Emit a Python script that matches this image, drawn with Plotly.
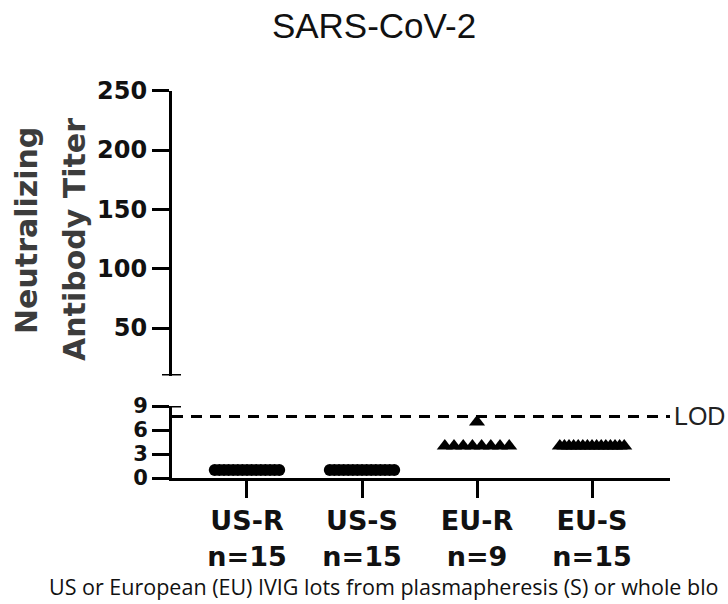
import numpy as np
import plotly.graph_objects as go

# ---------------- data ----------------
groups = ["US-R", "US-S", "EU-R", "EU-S"]
group_n = ["n=15", "n=15", "n=9", "n=15"]
us_r = [1, 1, 1, 1, 1, 1, 1, 1, 1, 1, 1, 1, 1, 1, 1]
us_s = [1, 1, 1, 1, 1, 1, 1, 1, 1, 1, 1, 1, 1, 1, 1]
eu_r = [7, 4, 4, 4, 4, 4, 4, 4, 4]
eu_s = [4, 4, 4, 4, 4, 4, 4, 4, 4, 4, 4, 4, 4, 4, 4]
series = [us_r, us_s, eu_r, eu_s]
symbols = ["circle", "circle", "triangle-up", "triangle-up"]
lod = 7.7
lower_ticks = [0, 3, 6, 9]
upper_ticks = [50, 100, 150, 200, 250]
lower_range = [0, 9]
upper_range = [10, 250]
caption = "US or European (EU) IVIG lots from plasmapheresis (S) or whole blo"

# ---------------- layout helpers ----------------
W, H = 728, 604
def fx(px):
    return px / W
def fy(py):
    return 1 - py / H

BOLD = "DejaVu Sans"
AX_L, AX_R = 172, 670
xrange_ = [-0.652, 3.678]
half_w = 0.28

fig = go.Figure()

for gi, (vals, sym) in enumerate(zip(series, symbols)):
    vals = np.asarray(vals, dtype=float)
    xs = np.zeros(len(vals))
    for v in np.unique(vals):
        idx = np.where(vals == v)[0]
        k = len(idx)
        xs[idx] = gi + (np.linspace(-half_w, half_w, k) if k > 1 else 0.0)
    fig.add_trace(go.Scatter(
        x=xs, y=vals, mode="markers", xaxis="x", yaxis="y",
        marker=dict(symbol=sym, color="black",
                    size=12 if sym == "circle" else 14, line=dict(width=0)),
        showlegend=False, hoverinfo="skip", cliponaxis=False,
    ))

# invisible trace so the upper (broken) axis segment is drawn
fig.add_trace(go.Scatter(x=[None], y=[None], xaxis="x", yaxis="y2",
                         mode="markers", showlegend=False, hoverinfo="skip"))

axis_common = dict(showline=True, linecolor="black", linewidth=3,
                   ticks="outside", tickcolor="black", tickwidth=3,
                   showgrid=False, zeroline=False, automargin=False)

fig.update_layout(
    width=W, height=H, margin=dict(l=0, r=0, t=0, b=0, autoexpand=False),
    paper_bgcolor="white", plot_bgcolor="white",
    xaxis=dict(domain=[fx(AX_L), fx(AX_R)], range=xrange_, anchor="y",
               tickvals=list(range(len(groups))),
               ticktext=[f"{g}<br>{n}" for g, n in zip(groups, group_n)],
               ticklen=17,
               tickfont=dict(family=BOLD, size=27, color="#111111", weight="bold"),
               **axis_common),
    yaxis=dict(domain=[fy(478), fy(406)], range=lower_range, anchor="x",
               tickvals=lower_ticks, ticklen=17,
               tickfont=dict(family=BOLD, size=21, color="#111111", weight="bold"),
               **axis_common),
    yaxis2=dict(domain=[fy(375.5), fy(90.7)], range=upper_range, anchor="x",
                tickvals=upper_ticks, ticklen=17,
                tickfont=dict(family=BOLD, size=24, color="#111111", weight="bold"),
                **axis_common),
    title=dict(text="SARS-CoV-2", x=fx(374), y=fy(26), xanchor="center",
               yanchor="middle",
               font=dict(family="Liberation Sans", size=35, color="#111111")),
)

# LOD dashed line
fig.add_shape(type="line", xref="x domain", yref="y", x0=0, x1=1,
              y0=lod, y1=lod,
              line=dict(color="black", width=3, dash="11px,8px"))
fig.add_annotation(xref="x domain", yref="y", x=1, y=lod, text="LOD",
                   showarrow=False, xanchor="left", yanchor="middle", xshift=2,
                   font=dict(family="Liberation Sans", size=25, color="#222222"))

# axis-break caps
for yref, yv in (("y2", upper_range[0]), ("y", lower_range[1])):
    fig.add_shape(type="line", xref="paper", yref=yref,
                  x0=fx(AX_L - 10), x1=fx(AX_L + 9), y0=yv, y1=yv,
                  line=dict(color="black", width=3))

# y-axis title (two lines)
for txt, px, py in (("Neutralizing", 26, 231), ("Antibody Titer", 74, 240)):
    fig.add_annotation(xref="paper", yref="paper", x=fx(px), y=fy(py),
                       text=txt, textangle=-90, showarrow=False,
                       xanchor="center", yanchor="middle",
                       font=dict(family=BOLD, size=30, color="#3c3c3c", weight="bold"))

# caption (the reference image is cropped at the right edge)
fig.add_annotation(xref="paper", yref="paper", x=fx(47), y=fy(586),
                   text=caption,
                   showarrow=False, xanchor="left", yanchor="middle",
                   font=dict(family="Open Sans", size=21.5, color="#111111"))

fig.write_html("out.html")
